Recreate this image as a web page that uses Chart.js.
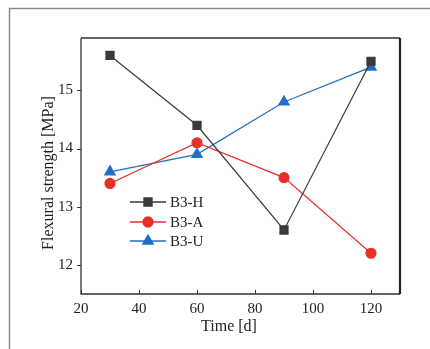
<!DOCTYPE html>
<html><head><meta charset="utf-8">
<script src="https://cdn.jsdelivr.net/npm/chart.js@4/dist/chart.umd.min.js"></script>
<style>html,body{margin:0;padding:0;background:#fff}#wrap{width:430px;height:349px}</style>
</head><body><div id="wrap"><canvas id="c" width="430" height="349"></canvas></div>
<script>
const days = [30, 60, 90, 120];
const seriesNames = ['B3-H', 'B3-A', 'B3-U'];
const b3H = [15.6, 14.4, 12.6, 15.5];
const b3A = [13.4, 14.1, 13.5, 12.2];
const b3U = [13.6, 13.9, 14.8, 15.4];
const xTicks = [20, 40, 60, 80, 100, 120];
const yTicks = [12, 13, 14, 15];
const xTitle = 'Time [d]';
const yTitle = 'Flexural strength [MPa]';

const FONT = '"Liberation Serif", "Times New Roman", serif';
const colors = ['#3a3a3a', '#e8302a', '#1f6fc4'];
const shapes = ['rect', 'circle', 'triangle'];
const radii = [5.7, 5, 6];
const series = [b3H, b3A, b3U];

const datasets = series.map((vals, i) => ({
  label: seriesNames[i],
  data: days.map((d, j) => ({x: d, y: vals[j]})),
  borderColor: colors[i],
  backgroundColor: colors[i],
  pointBackgroundColor: colors[i],
  pointBorderColor: colors[i],
  pointStyle: shapes[i],
  pointRadius: radii[i],
  borderWidth: 1.2,
  tension: 0
}));

const framePlugin = {
  id: 'frame',
  beforeDraw(chart) {
    const ctx = chart.ctx;
    ctx.save();
    ctx.fillStyle = '#fff';
    ctx.fillRect(0, 0, chart.width, chart.height);
    ctx.strokeStyle = '#8a8a8a';
    ctx.lineWidth = 1.5;
    ctx.strokeRect(9.5, 8.5, 440, 400);
    ctx.restore();
  },
  afterDraw(chart) {
    const ctx = chart.ctx;
    const a = chart.chartArea;
    const xs = chart.scales.x, ys = chart.scales.y;
    ctx.save();
    ctx.strokeStyle = '#333';
    ctx.lineWidth = 1.3;
    ctx.beginPath();
    ctx.moveTo(a.left, a.top); ctx.lineTo(a.right, a.top);
    ctx.moveTo(a.left, a.top); ctx.lineTo(a.left, a.bottom); ctx.lineTo(a.right, a.bottom);
    ctx.stroke();
    ctx.lineWidth = 2.2;
    ctx.strokeStyle = '#222';
    ctx.beginPath();
    ctx.moveTo(a.right, a.top); ctx.lineTo(a.right, a.bottom);
    ctx.stroke();
    // ticks: x inward, y outward
    ctx.lineWidth = 1;
    ctx.strokeStyle = '#333';
    ctx.beginPath();
    xTicks.forEach(v => { const p = Math.round(xs.getPixelForValue(v)) + 0.5; ctx.moveTo(p, a.bottom); ctx.lineTo(p, a.bottom - 4); });
    yTicks.forEach(v => { const p = Math.round(ys.getPixelForValue(v)) + 0.5; ctx.moveTo(a.left - 4, p); ctx.lineTo(a.left, p); });
    ctx.stroke();
    // axis titles
    ctx.fillStyle = '#222';
    ctx.font = '16px ' + FONT;
    ctx.textAlign = 'center';
    ctx.textBaseline = 'middle';
    ctx.fillText(xTitle, 229, 327);
    ctx.save();
    ctx.translate(49, 173);
    ctx.rotate(-Math.PI / 2);
    ctx.fillText(yTitle, 0, 0);
    ctx.restore();
    // legend
    const lx = 130, ly = [202, 222, 241];
    chart.data.datasets.forEach((ds, i) => {
      ctx.strokeStyle = ds.borderColor;
      ctx.lineWidth = 1.3;
      ctx.beginPath();
      ctx.moveTo(lx, ly[i]); ctx.lineTo(lx + 36, ly[i]);
      ctx.stroke();
      Chart.helpers.drawPoint(ctx, {pointStyle: ds.pointStyle, radius: ds.pointRadius, borderWidth: 1, rotation: 0}, lx + 18, ly[i]);
      ctx.fillStyle = ds.backgroundColor;
      ctx.fill();
      ctx.fillStyle = '#222';
      ctx.font = '15px ' + FONT;
      ctx.textBaseline = 'middle';
      ctx.textAlign = 'left';
      ctx.fillText(ds.label, lx + 40, ly[i] + 1);
    });
    ctx.restore();
  }
};

new Chart(document.getElementById('c'), {
  type: 'line',
  data: { datasets },
  plugins: [framePlugin],
  options: {
    responsive: false,
    animation: false,
    layout: { padding: { left: 0, top: 38, right: 30, bottom: 0 } },
    plugins: { legend: { display: false }, tooltip: { enabled: false } },
    scales: {
      x: {
        type: 'linear', min: 20, max: 130,
        afterBuildTicks(s) { s.ticks = xTicks.map(v => ({value: v})); },
        afterFit(s) { s.height = 55; },
        grid: { display: false, drawTicks: false },
        border: { display: false },
        ticks: { color: '#222', font: { family: FONT, size: 15 }, padding: 6, maxRotation: 0 },
        title: { display: false }
      },
      y: {
        type: 'linear', min: 11.5, max: 15.9,
        afterBuildTicks(s) { s.ticks = yTicks.map(v => ({value: v})); },
        afterFit(s) { s.width = 81; },
        grid: { display: false, drawTicks: false },
        border: { display: false },
        ticks: { color: '#222', font: { family: FONT, size: 15 }, padding: 8 },
        title: { display: false }
      }
    }
  }
});
</script></body></html>
